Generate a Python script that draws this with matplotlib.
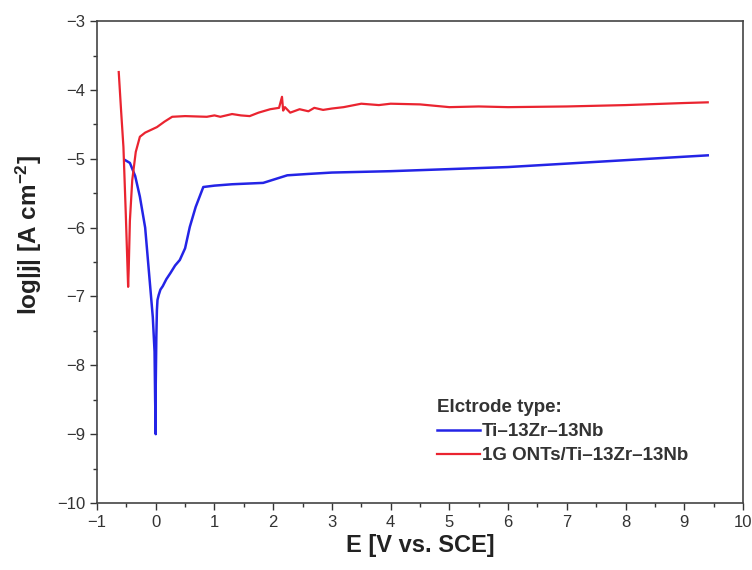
import matplotlib
matplotlib.use("Agg")
import matplotlib.pyplot as plt
from matplotlib.ticker import MultipleLocator

plt.rcParams['font.family'] = ['Liberation Sans', 'DejaVu Sans']
plt.rcParams['mathtext.fontset'] = 'custom'
plt.rcParams['mathtext.rm'] = 'Liberation Sans:bold'
plt.rcParams['mathtext.default'] = 'rm'

# Potentiodynamic polarization curves
blue_label = "Ti\u201313Zr\u201313Nb"
blue_E = [-0.52, -0.44, -0.35, -0.27, -0.18, -0.10, -0.05, -0.02, -0.01, 0.0, 0.0,
          0.01, 0.02, 0.03, 0.05, 0.08, 0.12, 0.18, 0.25, 0.33, 0.41, 0.50, 0.58,
          0.68, 0.81, 1.0, 1.3, 1.83, 2.24, 2.6, 3.0, 3.5, 4.0, 5.0, 6.0, 7.0,
          8.0, 9.0, 9.4]
blue_logj = [-5.02, -5.06, -5.25, -5.55, -6.0, -6.80, -7.3, -7.8, -8.5, -9.0, -8.3,
             -7.6, -7.2, -7.05, -6.98, -6.9, -6.85, -6.75, -6.66, -6.55, -6.47, -6.3,
             -5.99, -5.7, -5.41, -5.39, -5.37, -5.35, -5.24, -5.22, -5.2, -5.19,
             -5.18, -5.15, -5.12, -5.07, -5.02, -4.97, -4.95]

red_label = "1G ONTs/Ti\u201313Zr\u201313Nb"
red_E = [-0.63, -0.59, -0.55, -0.51, -0.47, -0.46, -0.44, -0.40, -0.34, -0.27, -0.18,
         -0.08, 0.02, 0.15, 0.28, 0.5, 0.87, 1.0, 1.1, 1.2, 1.3, 1.45, 1.6, 1.75,
         1.95, 2.1, 2.15, 2.17, 2.2, 2.29, 2.45, 2.6, 2.7, 2.85, 3.0, 3.2, 3.5, 3.8,
         4.0, 4.5, 5.0, 5.5, 6.0, 7.0, 8.0, 9.0, 9.4]
red_logj = [-3.74, -4.3, -4.83, -5.8, -6.86, -6.6, -5.9, -5.31, -4.9, -4.68, -4.62,
            -4.58, -4.54, -4.46, -4.39, -4.38, -4.39, -4.37, -4.39, -4.37, -4.35,
            -4.37, -4.38, -4.33, -4.28, -4.26, -4.10, -4.30, -4.25, -4.33, -4.28,
            -4.31, -4.26, -4.29, -4.27, -4.25, -4.20, -4.22, -4.20, -4.21, -4.25,
            -4.24, -4.25, -4.24, -4.22, -4.19, -4.18]

fig = plt.figure(figsize=(7.52, 5.70), dpi=100)
ax = fig.add_axes([0.129, 0.1175, 0.859, 0.8455])

ax.plot(blue_E, blue_logj, color='#2424e6', lw=1.8, label=blue_label)
ax.plot(red_E, red_logj, color='#ea2430', lw=1.6, label=red_label)

ax.set_xlim(-1, 10)
ax.set_ylim(-10, -3)
ax.xaxis.set_major_locator(MultipleLocator(1))
ax.xaxis.set_minor_locator(MultipleLocator(0.5))
ax.yaxis.set_major_locator(MultipleLocator(1))
ax.yaxis.set_minor_locator(MultipleLocator(0.5))
ax.tick_params(which='major', direction='out', length=5, width=1.0,
               labelsize=12, colors='#333333', top=False, right=False)
ax.tick_params(which='minor', direction='out', length=3, width=1.0,
               top=False, right=False, colors='#333333')
for s in ax.spines.values():
    s.set_color('#444444')
    s.set_linewidth(1.2)

ax.set_xlabel("E [V vs. SCE]", fontsize=17, fontweight='bold', labelpad=3,
              color='#222222')
ax.set_ylabel("log|j| [A cm$^{-2}$]", fontsize=17.5, fontweight='bold',
              color='#222222')
ax.yaxis.set_label_coords(-0.082, 0.556)

leg = ax.legend(title="Elctrode type:", loc='lower left', bbox_to_anchor=(0.50, 0.045),
                frameon=False, prop={'size': 13.5, 'weight': 'bold'},
                handlelength=2.3, handletextpad=0.12, labelspacing=0.38)
leg.get_title().set_fontweight('bold')
leg.get_title().set_fontsize(13.5)
leg._legend_box.align = "left"
for t in leg.get_texts():
    t.set_color('#333333')
leg.get_title().set_color('#333333')

fig.savefig("out.png", dpi=100)
